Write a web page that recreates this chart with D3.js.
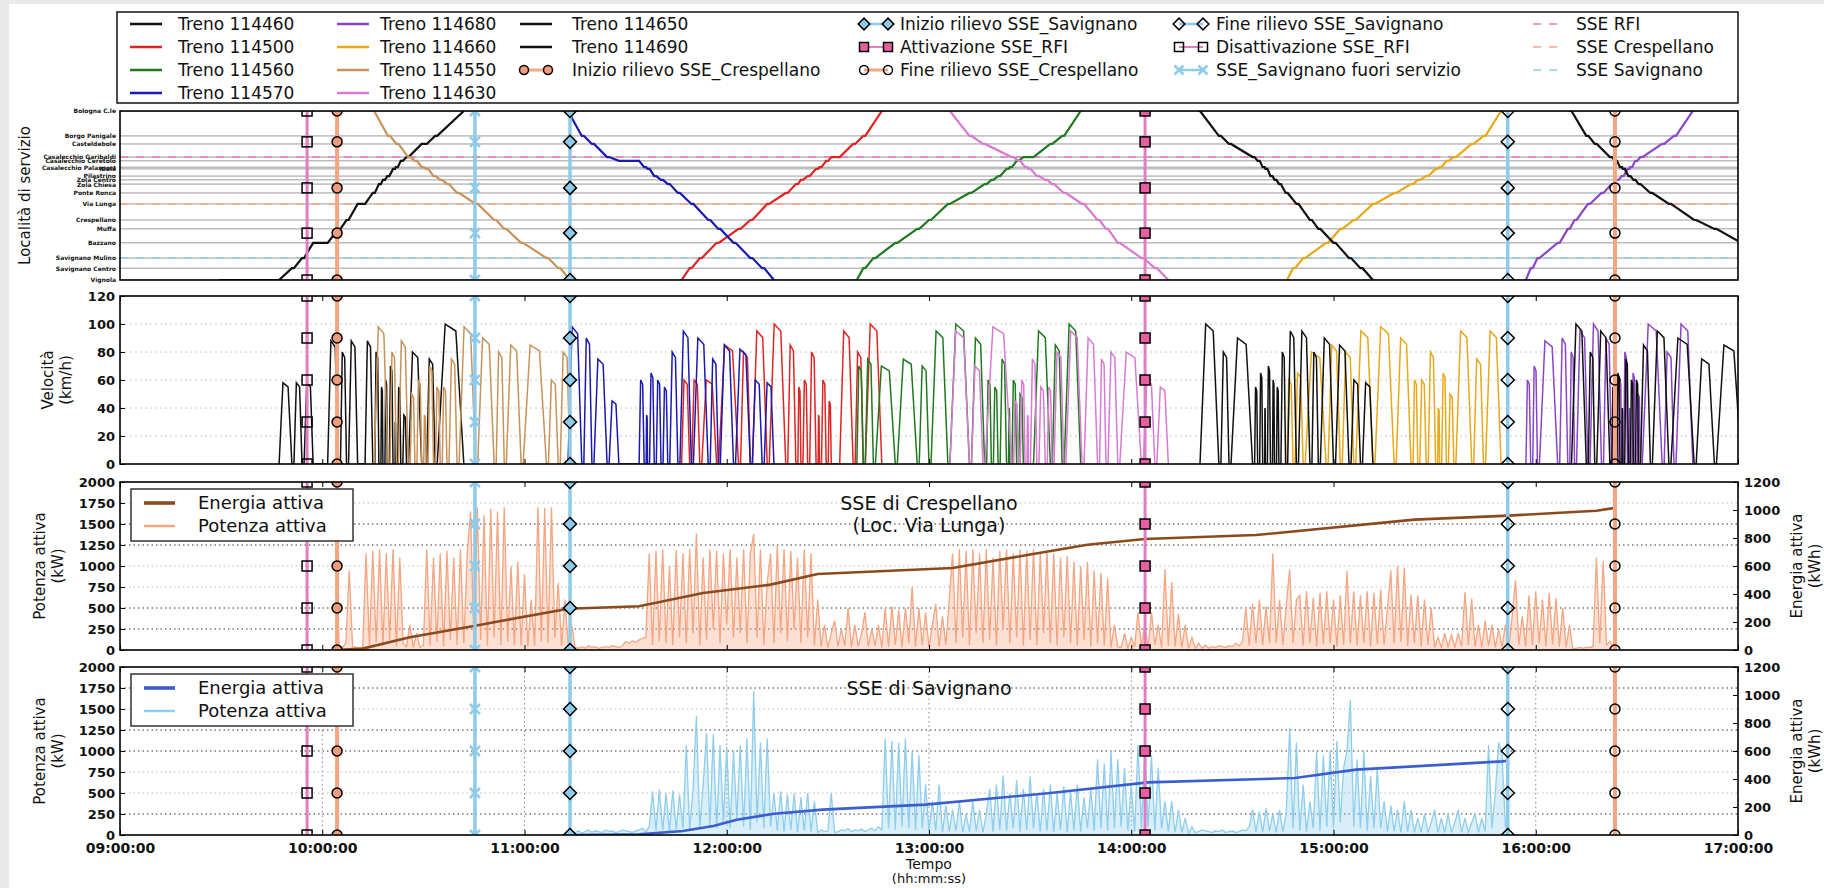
<!DOCTYPE html>
<meta charset="utf-8">
<head>
<style>
  body { margin: 0; background: #fff; }
  svg text { font-family: "DejaVu Sans", sans-serif; fill: #111; }
  .tick text { font-weight: bold; }
</style>
</head>
<body>
<div id="chart"></div>
<script src="https://d3js.org/d3.v7.min.js"></script>
<script>
// ---- data (times are minutes after 09:00:00) ----
const stationNames = ["Bologna C.le", "Borgo Panigale", "Casteldebole", "Casalecchio Garibaldi",
  "Casalecchio Ceretolo", "Casalecchio Palasport", "Riale", "Pilastrino", "Zola Centro", "Zola Chiesa",
  "Ponte Ronca", "Via Lunga", "Crespellano", "Muffa", "Bazzano", "Savignano Mulino", "Savignano Centro", "Vignola"];
const stationKm = [0, 5.9, 7.8, 10.9, 11.8, 13.3, 13.7, 15.4, 16.3, 17.3, 19.4, 22.0, 25.8, 27.9, 31.2, 34.8, 37.2, 40.0];

const trainIds = ["114460", "114500", "114560", "114570", "114680", "114660", "114550", "114630", "114650", "114690"];

// time at each station (index = station, Bologna first)
const t114460 = [102, 93.5, 89.5, 85, 83.3, 81.8, 81, 79.3, 78, 76.8, 75, 70.5, 67.2, 64.8, 57.3, 54, 51, 29.4];
const t114550 = [74.8, 79.5, 82, 85.5, 87.5, 89.5, 90.8, 93, 95, 97, 100, 105.5, 111, 114, 119, 126.5, 130, 133.5];
const t114570 = [132.3, 137, 140, 144.5, 148, 155.5, 156.5, 158.5, 160.5, 162.5, 165.5, 169.5, 174.5, 177.5, 182, 187, 190.5, 194];
const t114500 = [226, 220.5, 217.5, 211, 209.5, 207.5, 206.5, 204, 202, 200.5, 197.5, 192, 187, 183.5, 177, 172, 169, 166];
const t114560 = [285, 279.5, 276, 268, 266, 264, 263, 260.5, 258.5, 256.5, 252, 245.6, 240, 236.5, 230, 223.5, 220.5, 218];
const t114630 = [245.6, 252, 256, 264.5, 266.5, 268.5, 269.5, 272, 274.5, 276.5, 280, 285.4, 290, 292.5, 296, 303, 307, 311];
const t114650 = [319.8, 326, 329, 336, 337.5, 339, 339.8, 341.3, 342.5, 343.8, 345.8, 349, 353, 355.5, 360, 364.6, 368, 371.7];
const t114660 = [409.7, 404.5, 401, 395.7, 393.5, 391.5, 390.3, 387.5, 385, 383, 378, 371.7, 366, 362, 357.8, 351, 348, 345.6];
const t114680 = [466.6, 461, 457.5, 451, 449.5, 448, 447.2, 445.5, 444, 442.5, 439.5, 435.5, 431.5, 429.5, 426.5, 420.5, 418.5, 416.5];
const t114690 = [430, 435, 437.5, 442, 443.5, 445, 445.8, 447.5, 449, 450.5, 454, 459.5, 467, 473, 481, 486, 489, 492];

// long stops: [station index, minutes]
const s114460 = [[17, 17.8], [14, 4.3], [11, 2.2], [2, 1.5]];
const s114570 = [[4, 6]];
const s114500 = [[3, 2.5]];
const s114560 = [[3, 3]];

// peak speed (km/h) on each section between station i and i+1
const v114460 = [100, 75, 80, 35, 55, 30, 70, 60, 55, 80, 88, 88, 80, 88, 58, 58, 58];
const v114550 = [98, 80, 88, 50, 60, 35, 70, 55, 55, 75, 98, 90, 80, 85, 85, 60, 80];
const v114570 = [98, 90, 75, 45, 60, 35, 65, 60, 55, 80, 95, 90, 75, 85, 82, 60, 58];
const v114500 = [100, 80, 95, 45, 60, 35, 80, 60, 55, 85, 100, 95, 80, 85, 60, 60, 60];
const v114560 = [100, 85, 95, 50, 60, 40, 75, 55, 60, 90, 100, 95, 70, 75, 70, 75, 70];
const v114630 = [95, 70, 98, 45, 60, 35, 75, 55, 55, 80, 95, 90, 75, 80, 80, 60, 55];
const v114650 = [100, 80, 90, 55, 65, 40, 70, 60, 55, 80, 95, 95, 80, 90, 85, 60, 58];
const v114660 = [95, 75, 95, 50, 65, 40, 80, 60, 60, 90, 98, 95, 80, 85, 80, 65, 60];
const v114680 = [100, 80, 100, 50, 65, 40, 80, 60, 60, 90, 100, 95, 80, 90, 88, 70, 60];
const v114690 = [100, 80, 95, 55, 65, 40, 75, 60, 60, 85, 95, 90, 75, 85, 85, 60, 60];

// active power, one sample per minute (kW)
const powerCrespStart = 64;
const powerCrespellano = [
1300,60,30,80,950,40,30,20,40,1150,60,1180,90,1200,50,1150,120,1200,40,1100,
80,40,300,30,200,30,60,1200,50,1100,100,1150,40,1180,120,1100,60,1200,80,1150,
1650,80,1700,120,1600,50,1680,150,1650,60,1700,100,1000,60,1050,50,900,40,600,50,
1700,100,1690,80,1700,150,800,50,600,40,300,30,20,40,20,50,30,40,20,30,
40,30,50,40,30,50,100,80,110,90,120,140,150,1150,60,1180,100,1200,80,1000,
60,1190,150,1150,80,1200,200,1390,50,1100,120,1200,250,1180,80,1150,300,1200,150,1100,
200,1200,80,1150,1380,150,1200,60,800,1150,80,1250,200,1200,100,1180,250,1100,80,1200,
150,1150,50,600,40,300,30,200,350,40,250,50,500,30,300,40,200,450,40,250,
50,300,30,500,40,520,60,480,30,500,80,750,40,500,60,450,30,300,550,40,
400,60,600,1150,80,1200,150,1180,60,1200,200,1150,80,1200,120,1100,50,1180,250,1200,
80,1150,150,1200,50,1180,120,1200,60,1150,200,1180,80,1150,50,1100,150,1120,80,1050,
50,1000,120,1050,40,950,80,920,50,850,30,300,40,30,200,20,150,40,450,50,
300,30,450,60,300,30,960,50,810,40,430,30,300,20,150,20,80,20,60,20,
40,30,50,40,30,50,40,80,50,100,500,50,550,80,600,60,520,80,1150,80,
600,60,550,960,80,600,650,50,700,80,620,40,680,70,700,80,600,40,650,60,
940,80,700,50,650,80,700,40,680,70,720,60,500,950,80,1000,100,980,50,660,
80,650,40,600,60,500,30,150,30,200,40,180,30,200,40,690,60,610,40,300,
30,350,50,300,30,250,40,300,30,400,830,60,400,40,650,60,700,80,600,40,
680,70,620,40,500,30,300,20,20,30,20,30,30,40,1100,80,1060,60,100,50
];
const powerSavStart = 134;
const powerSavignano = [
40,30,50,20,40,60,30,50,40,30,60,40,50,30,40,60,50,40,30,50,
60,80,40,100,520,50,540,60,500,40,530,70,480,80,1075,60,550,1415,80,600,
1215,100,1200,80,1070,150,1050,80,1000,200,1070,100,1150,60,1710,150,1100,80,1150,100,
500,50,520,40,480,60,500,30,450,50,500,40,400,30,60,40,50,500,30,40,
60,50,80,40,60,50,70,40,60,80,50,100,60,1150,80,1120,60,1100,100,1150,
80,1000,60,950,80,600,40,400,50,600,30,350,40,300,50,400,30,250,40,400,
50,300,30,250,550,40,600,60,710,50,500,80,650,40,550,60,700,80,500,40,
550,50,600,40,500,60,580,30,520,50,600,40,450,80,550,50,900,80,850,50,
1000,80,900,100,800,50,600,40,1075,80,1000,100,950,50,800,80,400,40,400,30,
300,30,200,20,100,30,40,60,50,40,30,50,40,60,30,40,50,30,40,60,
50,100,300,40,280,30,320,50,250,30,300,40,280,1270,80,1100,50,600,40,400,
80,1000,50,950,100,1000,80,1120,150,800,1000,1610,100,900,80,1000,50,700,80,800,
80,400,40,350,50,300,30,400,40,300,30,200,30,250,30,150,300,30,200,30,
250,30,150,300,30,200,30,150,250,30,200,40,1075,80,500,1100,960,100,50
];

// cumulative active energy (kWh)
const energyCrespTime = [64, 72, 86, 105, 115, 133, 154, 173, 193, 207, 247, 270, 287, 304, 337, 384, 412, 438, 443.5];
const energyCrespValue = [0, 10, 91, 171, 216, 295, 313, 407, 467, 543, 586, 682, 752, 793, 821, 931, 960, 995, 1015];
const energySavTime = [134, 154, 167, 176, 183, 194, 208.5, 239, 276, 305, 348.5, 366.7, 410, 412];
const energySavValue = [0, 5, 28, 64, 109, 152, 181, 217, 300, 376, 407, 467, 526, 530];

// events
const eventNames = ["Disattivazione SSE_RFI", "Inizio rilievo SSE_Crespellano", "SSE_Savignano fuori servizio",
  "Inizio rilievo SSE_Savignano", "Attivazione SSE_RFI", "Fine rilievo SSE_Savignano", "Fine rilievo SSE_Crespellano"];
const eventTimes = [55.5, 64.4, 105.3, 133.5, 304.1, 411.7, 443.5];
const markerKm = [0, 7.3, 18.2, 28.9, 40];
const markerSpeed = [0, 30, 60, 90, 120];
const markerPower = [0, 500, 1000, 1500, 2000];

const sseNames = ["SSE RFI", "SSE Crespellano", "SSE Savignano"];
const sseStation = [3, 11, 15];

// ---- styles ----
const trainColor = {
  "114460": "#111", "114500": "#e02424", "114560": "#1f7a1f", "114570": "#1a1ab0", "114680": "#8a46c8",
  "114660": "#e8a818", "114550": "#c8925a", "114630": "#d87ad2", "114650": "#111", "114690": "#111"
};
const PINK = "#e27cc4", ORANGE = "#f4a582", LBLUE = "#8ecbea";
const eventStyle = {
  "Disattivazione SSE_RFI":        { c: PINK,   w: 3,   shape: "square",  fill: "none" },
  "Inizio rilievo SSE_Crespellano": { c: ORANGE, w: 4,   shape: "circle",  fill: "#ef9c7c" },
  "SSE_Savignano fuori servizio":   { c: LBLUE,  w: 3.5, shape: "x",       fill: LBLUE },
  "Inizio rilievo SSE_Savignano":   { c: LBLUE,  w: 3.5, shape: "diamond", fill: LBLUE },
  "Attivazione SSE_RFI":            { c: PINK,   w: 3,   shape: "square",  fill: "#e5609f" },
  "Fine rilievo SSE_Savignano":     { c: LBLUE,  w: 3.5, shape: "diamond", fill: "none" },
  "Fine rilievo SSE_Crespellano":   { c: ORANGE, w: 4,   shape: "circle",  fill: "none" }
};
const sseColor = [PINK, ORANGE, LBLUE];
const DWELL = 0.6;

const trainData = {
  "114460": [t114460, v114460, s114460], "114500": [t114500, v114500, s114500],
  "114560": [t114560, v114560, s114560], "114570": [t114570, v114570, s114570],
  "114680": [t114680, v114680, []], "114660": [t114660, v114660, []],
  "114550": [t114550, v114550, []], "114630": [t114630, v114630, []],
  "114650": [t114650, v114650, []], "114690": [t114690, v114690, []]
};

// ---- layout ----
const W = 1824, H = 888, X0 = 120, X1 = 1738;
const P = { top: [111, 280], vel: [296, 464], cr: [482, 650], sv: [667, 835] };

const svg = d3.select("#chart").append("svg").attr("width", W).attr("height", H);
svg.append("rect").attr("x", 0).attr("y", 0).attr("width", 9).attr("height", H).attr("fill", "#e9e9e9");
svg.append("rect").attr("x", 0).attr("y", 0).attr("width", W).attr("height", 4).attr("fill", "#e9e9e9");

const x = d3.scaleLinear().domain([0, 480]).range([X0, X1]);
const yKm = d3.scaleLinear().domain([0, 40]).range([P.top[0], P.top[1]]);
const yV = d3.scaleLinear().domain([0, 120]).range([P.vel[1], P.vel[0]]);
const yPc = d3.scaleLinear().domain([0, 2000]).range([P.cr[1], P.cr[0]]);
const yEc = d3.scaleLinear().domain([0, 1200]).range([P.cr[1], P.cr[0]]);
const yPs = d3.scaleLinear().domain([0, 2000]).range([P.sv[1], P.sv[0]]);
const yEs = d3.scaleLinear().domain([0, 1200]).range([P.sv[1], P.sv[0]]);

const pad = n => String(n).padStart(2, "0");
const fmtTime = m => pad(9 + Math.floor(m / 60)) + ":" + pad(m % 60) + ":00";
const fmtInt = d3.format("d");
const hours = d3.range(0, 481, 60);

function panel(name) {
  const [y0, y1] = P[name];
  svg.append("clipPath").attr("id", "clip-" + name).append("rect")
    .attr("x", X0).attr("y", y0).attr("width", X1 - X0).attr("height", y1 - y0);
  return svg.append("g").attr("clip-path", `url(#clip-${name})`);
}

function styleAxis(g, size) {
  g.select(".domain").remove();
  g.selectAll(".tick line").attr("stroke", "#000").attr("stroke-width", 1);
  g.selectAll(".tick text").attr("font-size", size).attr("fill", "#111");
}

function marker(g, shape, cx, cy, s, fill, color) {
  if (shape === "square") {
    g.append("rect").attr("x", cx - s / 2).attr("y", cy - s / 2).attr("width", s).attr("height", s)
      .attr("fill", fill).attr("stroke", "#000").attr("stroke-width", 1.5);
  } else if (shape === "circle") {
    g.append("circle").attr("cx", cx).attr("cy", cy).attr("r", s / 2)
      .attr("fill", fill).attr("stroke", "#000").attr("stroke-width", 1.5);
  } else if (shape === "diamond") {
    const h = s * 0.65;
    g.append("path").attr("d", `M${cx},${cy - h}L${cx + h},${cy}L${cx},${cy + h}L${cx - h},${cy}Z`)
      .attr("fill", fill).attr("stroke", "#000").attr("stroke-width", 1.5);
  } else {
    const h = s / 2;
    g.append("path").attr("d", `M${cx - h},${cy - h}L${cx + h},${cy + h}M${cx + h},${cy - h}L${cx - h},${cy + h}`)
      .attr("stroke", color).attr("stroke-width", 2.5).attr("fill", "none");
  }
}

function eventLines(g, y, vals) {
  eventNames.forEach((name, i) => {
    const st = eventStyle[name], xx = x(eventTimes[i]);
    g.append("line").attr("x1", xx).attr("x2", xx).attr("y1", y.range()[0]).attr("y2", y.range()[1])
      .attr("stroke", st.c).attr("stroke-width", st.w);
    vals.forEach(v => marker(g, st.shape, xx, y(v), 10, st.fill, st.c));
  });
}

function xTicksInside(g, y0, y1) {
  g.append("g").attr("transform", `translate(0,${y1})`)
    .call(d3.axisBottom(x).tickValues(hours).tickSize(-5).tickFormat(""))
    .call(a => styleAxis(a, 0));
  g.append("g").attr("transform", `translate(0,${y0})`)
    .call(d3.axisTop(x).tickValues(hours).tickSize(-5).tickFormat(""))
    .call(a => styleAxis(a, 0));
}

// train trajectories
function trainRun(t, stops) {
  const n = t.length, up = t[n - 1] < t[0];
  const order = up ? d3.range(n - 1, -1, -1) : d3.range(n);
  const hold = new Map(stops);
  const pts = [], runs = [];
  order.forEach((si, k) => {
    pts.push([t[si], stationKm[si]]);
    if (k < n - 1) {
      const dep = t[si] + (hold.has(si) ? hold.get(si) : DWELL);
      pts.push([dep, stationKm[si]]);
      const nx = order[k + 1];
      runs.push([dep, t[nx], Math.min(si, nx)]);
    }
  });
  return { pts, runs };
}
function speedProfile(runs, v) {
  const p = [];
  runs.forEach(([a, b, s]) => {
    const d = b - a;
    p.push([a, 0], [a + 0.3 * d, v[s]], [b - 0.3 * d, v[s] * 0.95], [b, 0]);
  });
  return p;
}

// ---- panel 1: train graph ----
const gTop = panel("top");
gTop.selectAll("line.st").data(stationKm).join("line")
  .attr("x1", X0).attr("x2", X1).attr("y1", d => yKm(d)).attr("y2", d => yKm(d))
  .attr("stroke", "#9a9a9a").attr("stroke-width", 1);
sseStation.forEach((si, i) => {
  gTop.append("line").attr("x1", X0).attr("x2", X1).attr("y1", yKm(stationKm[si])).attr("y2", yKm(stationKm[si]))
    .attr("stroke", sseColor[i]).attr("stroke-width", 1.6).attr("stroke-dasharray", "8,8");
});
const kmLine = d3.line().x(d => x(d[0])).y(d => yKm(d[1]));
const vLine = d3.line().x(d => x(d[0])).y(d => yV(d[1]));
const gVel = panel("vel");
yV.ticks(6).filter(d => d > 0 && d < 120).forEach(d => {
  gVel.append("line").attr("x1", X0).attr("x2", X1).attr("y1", yV(d)).attr("y2", yV(d))
    .attr("stroke", "#c8c8c8").attr("stroke-dasharray", "2,3");
});
trainIds.forEach(id => {
  const [t, v, s] = trainData[id];
  const r = trainRun(t, s);
  gTop.append("path").attr("d", kmLine(r.pts)).attr("fill", "none")
    .attr("stroke", trainColor[id]).attr("stroke-width", 2.2);
  gVel.append("path").attr("d", vLine(speedProfile(r.runs, v))).attr("fill", "none")
    .attr("stroke", trainColor[id]).attr("stroke-width", 1.5);
});
eventLines(gTop, yKm, markerKm);
eventLines(gVel, yV, markerSpeed);

svg.append("g").attr("transform", `translate(${X0},0)`)
  .call(d3.axisLeft(yKm).tickValues(stationKm).tickSize(0).tickPadding(4).tickFormat((d, i) => stationNames[i]))
  .call(a => styleAxis(a, "6px"));
svg.append("g").attr("transform", `translate(${X0},0)`)
  .call(d3.axisLeft(yV).tickValues(d3.range(0, 121, 20)).tickSize(-5).tickPadding(5).tickFormat(fmtInt))
  .call(a => styleAxis(a, "13px"));
xTicksInside(svg, P.vel[0], P.vel[1]);

// ---- power panels ----
function powerPanel(name, yP, yE, power, start, eTime, eVal, pColor, eColor, title, subtitle, darkGrid, vGrid) {
  const [y0, y1] = P[name];
  const g = panel(name);
  d3.range(250, 2000, 250).forEach(d => {
    g.append("line").attr("x1", X0).attr("x2", X1).attr("y1", yP(d)).attr("y2", yP(d))
      .attr("stroke", darkGrid.includes(d) ? "#333" : "#bbb").attr("stroke-width", 1)
      .attr("stroke-dasharray", "1.5,3");
  });
  if (vGrid) hours.slice(1, -1).forEach(h => {
    g.append("line").attr("x1", x(h)).attr("x2", x(h)).attr("y1", y0).attr("y2", y1)
      .attr("stroke", "#888").attr("stroke-dasharray", "1.5,3");
  });
  g.append("path").datum(power).attr("fill", pColor).attr("fill-opacity", 0.35).attr("stroke", "none")
    .attr("d", d3.area().x((d, i) => x(start + i)).y0(yP(0)).y1(d => yP(d)));
  g.append("path").datum(power).attr("fill", "none").attr("stroke", pColor).attr("stroke-width", 1.3)
    .attr("d", d3.line().x((d, i) => x(start + i)).y(d => yP(d)));
  g.append("path").datum(eTime).attr("fill", "none").attr("stroke", eColor).attr("stroke-width", 2.6)
    .attr("d", d3.line().x(d => x(d)).y((d, i) => yE(eVal[i])));
  eventLines(g, yP, markerPower);

  svg.append("g").attr("transform", `translate(${X0},0)`)
    .call(d3.axisLeft(yP).tickValues(d3.range(0, 2001, 250)).tickSize(-5).tickPadding(5).tickFormat(fmtInt))
    .call(a => styleAxis(a, "13px"));
  svg.append("g").attr("transform", `translate(${X1},0)`)
    .call(d3.axisRight(yE).tickValues(d3.range(0, 1201, 200)).tickSize(-5).tickPadding(6).tickFormat(fmtInt))
    .call(a => styleAxis(a, "13px"));
  xTicksInside(svg, y0, y1);

  svg.append("text").attr("x", (X0 + X1) / 2).attr("y", y0 + 28)
    .attr("text-anchor", "middle").attr("font-size", "19px").text(title);
  if (subtitle) svg.append("text").attr("x", (X0 + X1) / 2).attr("y", y0 + 50)
    .attr("text-anchor", "middle").attr("font-size", "19px").text(subtitle);

  // legend
  const lg = svg.append("g");
  lg.append("rect").attr("x", 131).attr("y", y0 + 7).attr("width", 222).attr("height", 52)
    .attr("fill", "#fff").attr("stroke", "#333").attr("stroke-width", 1.5);
  [["Energia attiva", eColor, 2.6], ["Potenza attiva", pColor, 1.5]].forEach(([lab, c, w], i) => {
    const cy = y0 + 21 + i * 23;
    lg.append("line").attr("x1", 144).attr("x2", 175).attr("y1", cy).attr("y2", cy)
      .attr("stroke", c).attr("stroke-width", w + 1);
    lg.append("text").attr("x", 198).attr("y", cy + 6).attr("font-size", "18px").text(lab);
  });

  // axis titles
  const cy = (y0 + y1) / 2;
  svg.append("text").attr("transform", `translate(45,${cy}) rotate(-90)`).attr("text-anchor", "middle")
    .attr("font-size", "15px").text("Potenza attiva");
  svg.append("text").attr("transform", `translate(63,${cy}) rotate(-90)`).attr("text-anchor", "middle")
    .attr("font-size", "15px").text("(kW)");
  svg.append("text").attr("transform", `translate(1802,${cy}) rotate(-90)`).attr("text-anchor", "middle")
    .attr("font-size", "15px").text("Energia attiva");
  svg.append("text").attr("transform", `translate(1820,${cy}) rotate(-90)`).attr("text-anchor", "middle")
    .attr("font-size", "15px").text("(kWh)");
}

powerPanel("cr", yPc, yEc, powerCrespellano, powerCrespStart, energyCrespTime, energyCrespValue,
  "#f4a582", "#8b4a1e", "SSE di Crespellano", "(Loc. Via Lunga)", [250, 500, 1250, 1500], false);
powerPanel("sv", yPs, yEs, powerSavignano, powerSavStart, energySavTime, energySavValue,
  "#8fcdec", "#3a5ed0", "SSE di Savignano", null, [250, 1000, 1250, 1750], true);

// x axis labels
svg.append("g").attr("transform", `translate(0,${P.sv[1]})`)
  .call(d3.axisBottom(x).tickValues(hours).tickSize(0).tickPadding(8).tickFormat(fmtTime))
  .call(a => styleAxis(a, "14px"));
svg.append("text").attr("x", (X0 + X1) / 2).attr("y", 869).attr("text-anchor", "middle")
  .attr("font-size", "14px").text("Tempo");
svg.append("text").attr("x", (X0 + X1) / 2).attr("y", 883).attr("text-anchor", "middle")
  .attr("font-size", "13px").text("(hh:mm:ss)");

// left titles for top panels
svg.append("text").attr("transform", `translate(30,${(P.top[0] + P.top[1]) / 2}) rotate(-90)`)
  .attr("text-anchor", "middle").attr("font-size", "15px").text("Località di servizio");
svg.append("text").attr("transform", `translate(53,${(P.vel[0] + P.vel[1]) / 2}) rotate(-90)`)
  .attr("text-anchor", "middle").attr("font-size", "15px").text("Velocità");
svg.append("text").attr("transform", `translate(71,${(P.vel[0] + P.vel[1]) / 2}) rotate(-90)`)
  .attr("text-anchor", "middle").attr("font-size", "15px").text("(km/h)");

// frames
Object.values(P).forEach(([y0, y1]) => {
  svg.append("rect").attr("x", X0).attr("y", y0).attr("width", X1 - X0).attr("height", y1 - y0)
    .attr("fill", "none").attr("stroke", "#000").attr("stroke-width", 1.6);
});

// ---- top legend ----
const leg = svg.append("g");
leg.append("rect").attr("x", 117).attr("y", 12).attr("width", 1621).attr("height", 91)
  .attr("fill", "#fff").attr("stroke", "#111").attr("stroke-width", 1.5);
const legCols = [[130, 178], [337, 380], [520, 572], [860, 900], [1175, 1216], [1533, 1576]];
const legRows = [24, 47, 70, 93];
const legItems = [
  trainIds.slice(0, 4).map(id => ({ type: "train", id })),
  trainIds.slice(4, 8).map(id => ({ type: "train", id })),
  [{ type: "train", id: "114650" }, { type: "train", id: "114690" }, { type: "event", id: "Inizio rilievo SSE_Crespellano" }],
  ["Inizio rilievo SSE_Savignano", "Attivazione SSE_RFI", "Fine rilievo SSE_Crespellano"].map(id => ({ type: "event", id })),
  ["Fine rilievo SSE_Savignano", "Disattivazione SSE_RFI", "SSE_Savignano fuori servizio"].map(id => ({ type: "event", id })),
  sseNames.map((id, i) => ({ type: "sse", id, i }))
];
legItems.forEach((col, ci) => {
  const [sx, tx] = legCols[ci];
  col.forEach((it, ri) => {
    const cy = legRows[ri];
    if (it.type === "train") {
      leg.append("line").attr("x1", sx).attr("x2", sx + 32).attr("y1", cy).attr("y2", cy)
        .attr("stroke", trainColor[it.id]).attr("stroke-width", 2.5);
      leg.append("text").attr("x", tx).attr("y", cy + 6).attr("font-size", "17px").text("Treno " + it.id);
    } else if (it.type === "event") {
      const st = eventStyle[it.id];
      leg.append("line").attr("x1", sx + 4).attr("x2", sx + 28).attr("y1", cy).attr("y2", cy)
        .attr("stroke", st.c).attr("stroke-width", st.w - 1);
      marker(leg, st.shape, sx + 4, cy, 9, st.fill, st.c);
      marker(leg, st.shape, sx + 28, cy, 9, st.fill, st.c);
      leg.append("text").attr("x", tx).attr("y", cy + 6).attr("font-size", "17px").text(it.id);
    } else {
      leg.append("line").attr("x1", sx).attr("x2", sx + 32).attr("y1", cy).attr("y2", cy)
        .attr("stroke", sseColor[it.i]).attr("stroke-width", 1.6).attr("stroke-dasharray", "8,8");
      leg.append("text").attr("x", tx).attr("y", cy + 6).attr("font-size", "17px").text(it.id);
    }
  });
});
</script>
</body>
